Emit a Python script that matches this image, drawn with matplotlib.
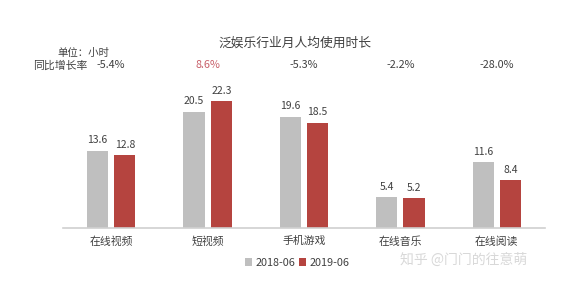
import matplotlib.pyplot as plt
import numpy as np

plt.rcParams['font.family'] = ['Noto Sans CJK SC', 'DejaVu Sans']

# 数据
categories = ['在线视频', '短视频', '手机游戏', '在线音乐', '在线阅读']
v2018 = [13.6, 20.5, 19.6, 5.4, 11.6]
v2019 = [12.8, 22.3, 18.5, 5.2, 8.4]
growth = ['-5.4%', '8.6%', '-5.3%', '-2.2%', '-28.0%']
series = ['2018-06', '2019-06']

gray = '#BFBFBF'
red = '#B5443F'
txt = '#404040'

fig = plt.figure(figsize=(5.65, 3.02), dpi=100)
ax = fig.add_axes([63 / 565, 74 / 302, 482 / 565, 142 / 302])

x = np.arange(len(categories))
w = 0.22
off = 0.142
b1 = ax.bar(x - off, v2018, w, color=gray, label=series[0])
b2 = ax.bar(x + off, v2019, w, color=red, label=series[1])

for bars in (b1, b2):
    for b in bars:
        ax.annotate(f'{b.get_height():.1f}', (b.get_x() + b.get_width() / 2, b.get_height()),
                    xytext=(0, 4), textcoords='offset points', ha='center', va='bottom',
                    fontsize=7.5, color=txt)

ax.set_xlim(-0.5, 4.5)
ax.set_ylim(0, 25)
ax.set_yticks([])
ax.set_xticks(x)
ax.set_xticklabels(categories, fontsize=7.8, color=txt)
ax.tick_params(axis='x', length=0, pad=6)
for s in ['top', 'right', 'left']:
    ax.spines[s].set_visible(False)
ax.spines['bottom'].set_color('#D0D0D0')
ax.spines['bottom'].set_linewidth(1.2)

# 同比增长率, x 跟着每组柱子, y 用图的坐标
trans = ax.get_xaxis_transform() + fig.transFigure.inverted()
for i, g in enumerate(growth):
    c = '#C8606A' if not g.startswith('-') else txt
    xf = trans.transform((i, 0))[0]
    fig.text(xf, 1 - 65 / 302, g, ha='center', va='center', fontsize=7.8, color=c)

fig.text(295 / 565, 1 - 43 / 302, '泛娱乐行业月人均使用时长', ha='center', va='center',
         fontsize=9.2, color=txt)
fig.text(83 / 565, 1 - 53 / 302, '单位：小时', ha='center', va='center', fontsize=7.5, color=txt)
fig.text(33 / 565, 1 - 66 / 302, '同比增长率', ha='left', va='center', fontsize=7.8, color=txt)

fig.legend(loc='center', bbox_to_anchor=(297 / 565, 1 - 263 / 302), ncol=2, frameon=False,
           fontsize=7.8, handlelength=0.7, handleheight=0.7, handletextpad=0.3,
           columnspacing=0.3, labelcolor=txt)

# 水印
fig.text(400 / 565, 1 - 260 / 302, '知乎 @门门的往意萌', ha='left', va='center',
         fontsize=10, color='#C8C8C8', alpha=0.7)

fig.savefig('out.png', dpi=100)
